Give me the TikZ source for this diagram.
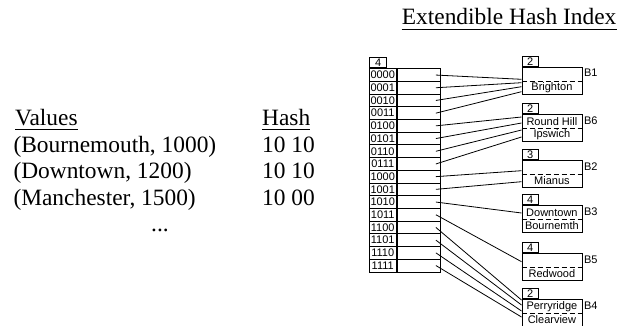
\documentclass[tikz,border=0pt]{standalone}
\usepackage{fontspec}
\setmainfont{Liberation Serif}
\setsansfont{Liberation Sans}
\usetikzlibrary{calc}

\tikzset{
  big/.style={font=\fontsize{23.4}{26}\selectfont, inner sep=0pt},
  small/.style={font=\sffamily\fontsize{11}{12}\selectfont},
  cell/.style={draw, line width=0.8pt, minimum height=12.7pt, inner sep=0pt, anchor=north west, small},
  bucket/.style={draw, line width=0.8pt, minimum width=60pt, minimum height=27.3pt, inner sep=0pt, anchor=north west},
  depthbox/.style={draw, line width=0.8pt, minimum width=16.5pt, minimum height=10pt, inner sep=0pt, anchor=south west, small},
  ptr/.style={line width=0.8pt},
  uline/.style={line width=1pt},
  divider/.style={line width=0.8pt, dash pattern=on 5pt off 3pt}
}

\begin{document}
\begin{tikzpicture}[x=1pt, y=-1pt]
    \useasboundingbox (0,0) rectangle (619,326);

    % values and their hash
    \node[big, anchor=base west] (vals) at (15,126) {Values};
    \node[big, anchor=base west] (hash) at (262,126) {Hash};
    \draw[uline] ([yshift=-3.3pt]vals.base west) -- ([yshift=-3.3pt]vals.base east);
    \draw[uline] ([yshift=-3.3pt]hash.base west) -- ([yshift=-3.3pt]hash.base east);
    \node[big, anchor=base west] (v1) at (13.3,153) {(Bournemouth, 1000)};
    \node[big, anchor=base west] (v2) at (13.3,179) {(Downtown, 1200)};
    \node[big, anchor=base west] (v3) at (13.3,205) {(Manchester, 1500)};
    \node[big, anchor=base west] (h1) at (262,153) {10 10};
    \node[big, anchor=base west] (h2) at (262,179) {10 10};
    \node[big, anchor=base west] (h3) at (262,205) {10 00};
    \node[big, anchor=base] (more) at (160,232) {...};

    \node[big, anchor=base west] (title) at (401.7,25) {Extendible Hash Index};
    \draw[uline] ([yshift=-4.3pt]title.base west) -- ([yshift=-4.3pt]title.base east);

    % directory
    \node[depthbox, minimum width=17.4pt] (gd) at (369,68.3) {4};
    \foreach \b [count=\i from 0] in {0000,0001,0010,0011,0100,0101,0110,0111,1000,1001,1010,1011,1100,1101,1110,1111} {
        \node[cell, minimum width=26.7pt] (l\i) at (369,68.3+12.7*\i) {\b};
        \node[cell, minimum width=43.6pt] (c\i) at (l\i.north east) {};
    }

    % buckets
    \foreach \n/\t/\d/\up/\dn in {B1/66.7/2//Brighton, B6/114/2/Round Hill/Ipswich, B2/160/3//Mianus,
                                  B3/205/4/Downtown/Bournemth, B5/253/4//Redwood, B4/299/2/Perryridge/Clearview} {
        \node[bucket] (\n) at (521.5,\t) {};
        \node[depthbox] (d\n) at (\n.north west) {\d};
        \draw[divider] ($(\n.north west)+(0,14.5)$) -- ($(\n.north east)+(0,14.5)$);
        \node[small] (u\n) at ($(\n.north)+(0,7.3)$) {\up};
        \node[small] (w\n) at ($(\n.north)+(0,21)$) {\dn};
        \node[small, anchor=west, inner sep=0pt] (n\n) at ($(\n.north east)+(1.5,6.5)$) {\n};
    }

    % pointers
    \foreach \r/\b/\o in {0/B1/12.6, 1/B1/16, 2/B1/20, 3/B1/25, 4/B6/3, 5/B6/9, 6/B6/16, 7/B6/23,
                          8/B2/10.7, 9/B2/21.7, 10/B3/8, 11/B5/8.7, 12/B4/1, 13/B4/6, 14/B4/12, 15/B4/18}
        \draw[ptr] ([xshift=-5pt]c\r.east) -- ($(\b.north west)+(0,\o)$);
\end{tikzpicture}
\end{document}
